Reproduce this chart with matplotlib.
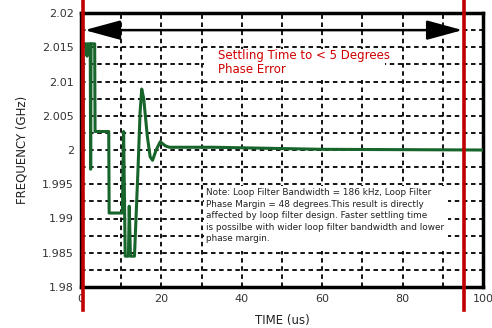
import numpy as np
import matplotlib.pyplot as plt
from matplotlib.patches import Rectangle
from matplotlib.ticker import FixedLocator, FixedFormatter, MultipleLocator
import matplotlib.transforms as mtransforms

# settling curve (time in us, frequency in GHz)
time_us = [0.5, 0.5, 1.3, 1.5, 1.7, 2.3, 2.4, 2.5, 3.4, 3.5, 6.9, 7.0, 10.3, 10.6,
           11.0, 11.8, 12.0, 12.3, 13.3, 14.2, 14.7, 15.1, 15.6, 16.5, 17.2, 17.8,
           18.7, 19.7, 21.0, 22.0, 33.0, 60.0, 100.0]
freq_ghz = [2.0, 2.0155, 2.0155, 2.0137, 2.0155, 2.0155, 1.9972, 2.0155, 2.0155, 2.0027,
            2.0027, 1.9908, 1.9908, 2.0027, 1.9845, 1.9845, 1.9918, 1.9845, 1.9845,
            1.9975, 2.0055, 2.0089, 2.0075, 2.002, 1.999, 1.9985, 2.0, 2.0012,
            2.0006, 2.0004, 2.0004, 2.0001, 2.0]

x_ticks = [0, 20, 40, 60, 80, 100]
y_ticks = [1.98, 1.985, 1.99, 1.995, 2.0, 2.005, 2.01, 2.015, 2.02]
y_labels = ['1.98', '1.985', '1.99', '1.995', '2', '2.005', '2.01', '2.015', '2.02']

settle_start = 0.5
settle_end = 95.3
arrow_y = 2.0175

note = ("Note: Loop Filter Bandwidth = 186 kHz, Loop Filter\n"
        "Phase Margin = 48 degrees.This result is directly\n"
        "affected by loop filter design. Faster settling time\n"
        "is possilbe with wider loop filter bandwidth and lower\n"
        "phase margin.")

fig = plt.figure(figsize=(4.92, 3.28), dpi=100)
ax = fig.add_axes([81 / 492, 41 / 328, 402 / 492, 274 / 328])

ax.set_xlim(0, 100)
ax.set_ylim(1.98, 2.02)

# dashed grid every 10 us / 2.5 MHz
ax.xaxis.set_minor_locator(MultipleLocator(10))
ax.yaxis.set_minor_locator(MultipleLocator(0.0025))
ax.grid(which='both', color='black', linestyle=(0, (2.5, 2)), linewidth=1.3)
ax.set_axisbelow(True)

ax.xaxis.set_major_locator(FixedLocator(x_ticks))
ax.xaxis.set_major_formatter(FixedFormatter([str(t) for t in x_ticks]))
ax.yaxis.set_major_locator(FixedLocator(y_ticks))
ax.yaxis.set_major_formatter(FixedFormatter(y_labels))
ax.tick_params(which='both', length=0, labelsize=8, labelcolor='#333333', pad=5)

for s in ax.spines.values():
    s.set_linewidth(2.5)
    s.set_color('black')

# white boxes behind the two text blocks (they hide the grid)
ax.add_patch(Rectangle((30.6, 2.0102), 45.0, 0.0046, facecolor='white',
                       edgecolor='none', zorder=1))
ax.add_patch(Rectangle((30.6, 1.9853), 60.6, 0.0095, facecolor='white',
                       edgecolor='none', zorder=1))

ax.plot(time_us, freq_ghz, color='#17652a', linewidth=2.2, zorder=3)

# red settling markers running past the frame
trans = mtransforms.blended_transform_factory(ax.transData, ax.transAxes)
for xv in (settle_start, settle_end):
    ax.plot([xv, xv], [1.05, -0.085], color='#c00000', linewidth=2.6,
            transform=trans, clip_on=False, zorder=5)

ax.annotate('', xy=(settle_start + 0.4, arrow_y), xytext=(settle_end - 0.4, arrow_y),
            arrowprops=dict(arrowstyle='<|-|>,head_length=2.2,head_width=0.6',
                            color='black', lw=1.8, shrinkA=0, shrinkB=0), zorder=4)

ax.text(34, 2.0147, "Settling Time to < 5 Degrees\nPhase Error", color='#d00000',
        fontsize=8.5, va='top', ha='left', linespacing=1.05, zorder=4)

ax.text(31.0, 1.9944, note, fontsize=6.4, color='#222222', va='top', ha='left',
        linespacing=1.36, zorder=4)

ax.set_xlabel('TIME (us)', fontsize=8.5, color='#222222', labelpad=7)
ax.set_ylabel('FREQUENCY (GHz)', fontsize=8.5, color='#222222', labelpad=10)

fig.savefig('out.png', dpi=100)
